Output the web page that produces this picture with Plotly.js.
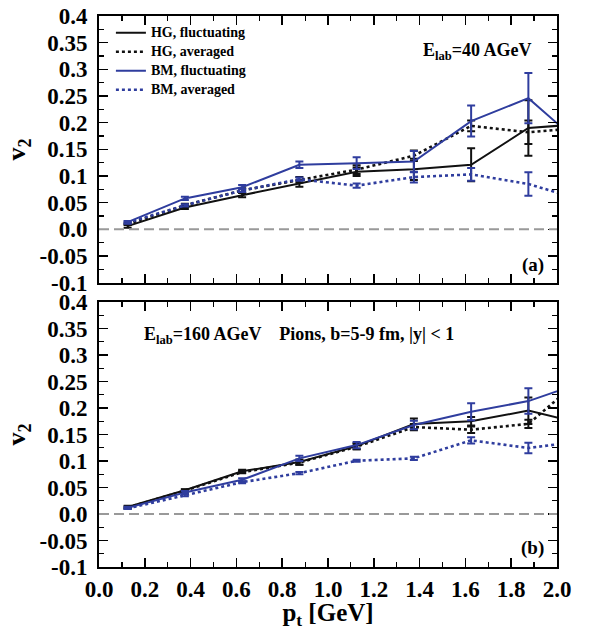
<!DOCTYPE html>
<html>
<head>
<meta charset="utf-8">
<script src="https://cdn.plot.ly/plotly-3.0.1.min.js"></script>
<style>html,body{margin:0;padding:0;background:#fff;}#chart{width:590px;height:630px;}</style>
</head>
<body>
<div id="chart"></div>
<script>
// p_t bin centres (GeV); last point lies beyond the axis and is clipped
const pt = [0.125, 0.375, 0.625, 0.875, 1.125, 1.375, 1.625, 1.875, 2.125];

// (a) E_lab = 40 AGeV
const a_hgFluct    = [0.006, 0.041, 0.064, 0.086, 0.108, 0.1125, 0.121, 0.190, 0.198];
const a_hgFluctErr = [0.003, 0.003, 0.004, 0.006, 0.008, 0.020, 0.031, 0.052, 0];
const a_hgAvg      = [0.010, 0.045, 0.073, 0.093, 0.112, 0.138, 0.194, 0.182, 0.191];
const a_hgAvgErr   = [0.002, 0.003, 0.004, 0.005, 0.008, 0.010, 0.010, 0.022, 0];
const a_bmFluct    = [0.0135, 0.058, 0.079, 0.121, 0.124, 0.127, 0.203, 0.246, 0.152];
const a_bmFluctErr = [0.002, 0.003, 0.004, 0.006, 0.011, 0.020, 0.029, 0.047, 0];
const a_bmAvg      = [0.0125, 0.045, 0.073, 0.094, 0.082, 0.098, 0.103, 0.085, 0.053];
const a_bmAvgErr   = [0.002, 0.002, 0.003, 0.003, 0.004, 0.010, 0.012, 0.022, 0];

// (b) E_lab = 160 AGeV
const b_hgFluct    = [0.0135, 0.0447, 0.0805, 0.098, 0.128, 0.170, 0.175, 0.195, 0.169];
const b_hgFluctErr = [0.002, 0.002, 0.003, 0.005, 0.006, 0.010, 0.008, 0.025, 0];
const b_hgAvg      = [0.012, 0.044, 0.079, 0.097, 0.127, 0.164, 0.159, 0.170, 0.262];
const b_hgAvgErr   = [0.002, 0.002, 0.002, 0.004, 0.005, 0.006, 0.006, 0.008, 0];
const b_bmFluct    = [0.0115, 0.0405, 0.0645, 0.105, 0.130, 0.168, 0.193, 0.213, 0.250];
const b_bmFluctErr = [0.002, 0.003, 0.003, 0.005, 0.006, 0.008, 0.016, 0.024, 0];
const b_bmAvg      = [0.0105, 0.0355, 0.060, 0.077, 0.1005, 0.105, 0.139, 0.1245, 0.138];
const b_bmAvgErr   = [0.001, 0.002, 0.002, 0.002, 0.002, 0.003, 0.006, 0.010, 0];

const seriesNames = ['HG, fluctuating', 'HG, averaged', 'BM, fluctuating', 'BM, averaged'];

const yTickVals = [-0.1, -0.05, 0, 0.05, 0.1, 0.15, 0.2, 0.25, 0.3, 0.35, 0.4];
const yTickText = ['-0.1', '-0.05', '0.0', '0.05', '0.1', '0.15', '0.2', '0.25', '0.3', '0.35', '0.4'];
const xTickVals = [0, 0.2, 0.4, 0.6, 0.8, 1.0, 1.2, 1.4, 1.6, 1.8, 2.0];
const xTickText = ['0.0', '0.2', '0.4', '0.6', '0.8', '1.0', '1.2', '1.4', '1.6', '1.8', '2.0'];

const BLACK = '#111111';
const BLUE = '#2f3d9e';
const FONT = 'Liberation Serif, Times New Roman, serif';

function tr(y, err, name, color, dash, xa, ya, show) {
  return {
    x: pt, y: y, name: '<span style="font-size:14px">' + name + '</span>',
    type: 'scatter', mode: 'lines',
    xaxis: xa, yaxis: ya, showlegend: show,
    line: {color: color, width: dash === 'solid' ? 2 : 2.6, dash: dash},
    error_y: {type: 'data', array: err, visible: true, color: color, thickness: 2, width: 4}
  };
}

const data = [
  tr(a_hgFluct, a_hgFluctErr, seriesNames[0], BLACK, 'solid', 'x', 'y', true),
  tr(a_hgAvg,   a_hgAvgErr,   seriesNames[1], BLACK, 'dot',   'x', 'y', true),
  tr(a_bmFluct, a_bmFluctErr, seriesNames[2], BLUE,  'solid', 'x', 'y', true),
  tr(a_bmAvg,   a_bmAvgErr,   seriesNames[3], BLUE,  'dot',   'x', 'y', true),
  tr(b_hgFluct, b_hgFluctErr, seriesNames[0], BLACK, 'solid', 'x2', 'y2', false),
  tr(b_hgAvg,   b_hgAvgErr,   seriesNames[1], BLACK, 'dot',   'x2', 'y2', false),
  tr(b_bmFluct, b_bmFluctErr, seriesNames[2], BLUE,  'solid', 'x2', 'y2', false),
  tr(b_bmAvg,   b_bmAvgErr,   seriesNames[3], BLUE,  'dot',   'x2', 'y2', false)
];

function yax(domain, anchor) {
  return {
    domain: domain, anchor: anchor, range: [-0.1, 0.4],
    tickmode: 'array', tickvals: yTickVals, ticktext: yTickText,
    ticks: 'inside', ticklen: 9, tickwidth: 1.5, tickcolor: '#000',
    minor: {tickmode: 'linear', tick0: 0, dtick: 0.025, ticks: 'inside', ticklen: 5, tickwidth: 1.2, tickcolor: '#000'},
    showline: true, linecolor: '#000', linewidth: 2, mirror: 'allticks',
    showgrid: false, zeroline: false,
    tickfont: {family: FONT, size: 23, color: '#000', weight: 700},
    ticklabelstandoff: 5,
    title: {text: 'v<sub>2</sub>', font: {family: FONT, size: 26, color: '#000', weight: 700}, standoff: 6}
  };
}
function xax(anchor, labels) {
  return {
    anchor: anchor, domain: [0, 1], range: [0, 2],
    tickmode: 'array', tickvals: xTickVals, ticktext: xTickText,
    showticklabels: labels,
    ticks: 'inside', ticklen: 9, tickwidth: 1.5, tickcolor: '#000',
    minor: {tickmode: 'linear', tick0: 0, dtick: 0.1, ticks: 'inside', ticklen: 5, tickwidth: 1.2, tickcolor: '#000'},
    showline: true, linecolor: '#000', linewidth: 2, mirror: 'allticks',
    showgrid: false, zeroline: false,
    tickfont: {family: FONT, size: 23, color: '#000', weight: 700},
    title: labels ? {text: 'p<sub>t</sub> [GeV]', font: {family: FONT, size: 25, color: '#000', weight: 700}, standoff: 5} : {text: ''}
  };
}

const layout = {
  width: 590, height: 630,
  margin: {l: 99, r: 33, t: 16, b: 63},
  paper_bgcolor: '#fff', plot_bgcolor: '#fff',
  font: {family: FONT, color: '#000'},
  xaxis: xax('y', false),
  yaxis: yax([0.516, 1], 'x'),
  xaxis2: xax('y2', true),
  yaxis2: yax([0, 0.481], 'x2'),
  legend: {
    x: 0.026, y: 0.996, xanchor: 'left', yanchor: 'top',
    bgcolor: 'rgba(0,0,0,0)', borderwidth: 0,
    font: {family: FONT, size: 10, color: '#000', weight: 700},
    tracegroupgap: 0, itemwidth: 30
  },
  shapes: [
    {type: 'line', xref: 'x domain', yref: 'y', x0: 0, x1: 1, y0: 0, y1: 0, line: {color: '#999', width: 2, dash: '10px,5px'}},
    {type: 'line', xref: 'x2 domain', yref: 'y2', x0: 0, x1: 1, y0: 0, y1: 0, line: {color: '#999', width: 2, dash: '10px,5px'}}
  ],
  annotations: [
    {xref: 'x domain', yref: 'y domain', x: 0.95, y: 0.868, xanchor: 'right', yanchor: 'middle', showarrow: false,
     text: 'E<sub>lab</sub>=40 AGeV', font: {family: FONT, size: 18, color: '#000', weight: 700}},
    {xref: 'x domain', yref: 'y domain', x: 0.975, y: 0.065, xanchor: 'right', yanchor: 'middle', showarrow: false,
     text: '(a)', font: {family: FONT, size: 19, color: '#000', weight: 700}},
    {xref: 'x2 domain', yref: 'y2 domain', x: 0.093, y: 0.875, xanchor: 'left', yanchor: 'middle', showarrow: false,
     text: 'E<sub>lab</sub>=160 AGeV    Pions, b=5-9 fm, |y| &lt; 1', font: {family: FONT, size: 18, color: '#000', weight: 700}},
    {xref: 'x2 domain', yref: 'y2 domain', x: 0.975, y: 0.07, xanchor: 'right', yanchor: 'middle', showarrow: false,
     text: '(b)', font: {family: FONT, size: 19, color: '#000', weight: 700}}
  ]
};

Plotly.newPlot('chart', data, layout, {displayModeBar: false, staticPlot: true});
</script>
</body>
</html>
